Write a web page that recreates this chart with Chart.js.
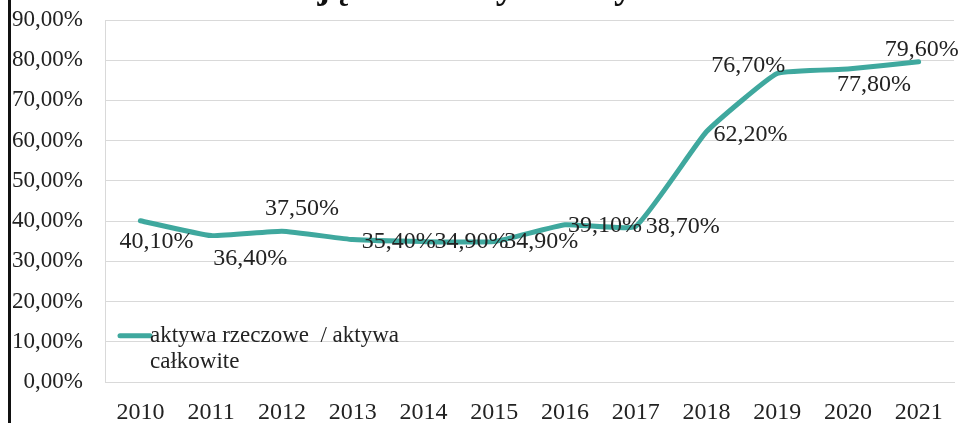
<!DOCTYPE html>
<html>
<head>
<meta charset="utf-8">
<script src="https://cdn.jsdelivr.net/npm/chart.js@4.4.0/dist/chart.umd.min.js"></script>
<style>
  html, body { margin: 0; padding: 0; background: #fff; }
  #wrap { position: relative; width: 963px; height: 423px; }
  #edge { position: absolute; left: 8px; top: 0; width: 3px; height: 423px; background: #111; }
</style>
</head>
<body>
<div id="wrap">
  <canvas id="c" width="963" height="423"></canvas>
  <div id="edge"></div>
</div>
<script>
/* ── Dane ─────────────────────────────────────────────────────────────── */
const years = ['2010','2011','2012','2013','2014','2015','2016','2017','2018','2019','2020','2021'];
const ratio = [40.1, 36.4, 37.5, 35.4, 34.9, 34.9, 39.1, 38.7, 62.2, 76.7, 77.8, 79.6];
const seriesName = ['aktywa rzeczowe  / aktywa', 'całkowite'];
const titleText = 'Majątek trwały w aktywach';

// przesunięcia etykiet danych (styl, nie dane)
const labelShift = [[16,21],[39,23],[20,-22],[46,2],[48,0],[47,0],[40,1],[47,0],[44,3],[-29,-8],[26,16],[3,-12]];

const TEAL = '#3fa89e';
const SERIF = '"Liberation Serif", "Times New Roman", serif';
const pct = v => v.toFixed(2).replace('.', ',') + '%';

/* ── Plugin: tytuł (ucięty), etykiety, legenda ────────────────────────── */
const extras = {
  id: 'extras',
  afterDatasetsDraw(chart) {
    const ctx = chart.ctx;
    const meta = chart.getDatasetMeta(0);
    ctx.save();
    // tytuł obcięty u góry skanu
    ctx.fillStyle = '#111';
    ctx.font = 'bold 38px ' + SERIF;
    ctx.textAlign = 'center';
    ctx.textBaseline = 'alphabetic';
    ctx.fillText(titleText, 490, -2);

    // etykiety danych
    ctx.font = '24px ' + SERIF;
    ctx.textBaseline = 'middle';
    ctx.fillStyle = '#222';
    meta.data.forEach((pt, i) => {
      const [dx, dy] = labelShift[i];
      ctx.fillText(pct(ratio[i]), pt.x + dx, pt.y + dy);
    });

    // legenda w obszarze wykresu
    const ys = chart.scales.y;
    const ly = ys.getPixelForValue(11.5);
    ctx.strokeStyle = TEAL;
    ctx.lineWidth = 5;
    ctx.lineCap = 'round';
    ctx.beginPath();
    ctx.moveTo(120, ly); ctx.lineTo(150, ly);
    ctx.stroke();
    ctx.textAlign = 'left';
    ctx.fillStyle = '#222';
    ctx.font = '23px ' + SERIF;
    ctx.fillText(seriesName[0], 150, ly);
    ctx.fillText(seriesName[1], 150, ly + 26);
    ctx.restore();
  }
};

/* ── Wykres ──────────────────────────────────────────────────────────── */
const chart = new Chart(document.getElementById('c').getContext('2d'), {
  type: 'line',
  data: {
    labels: years,
    datasets: [{
      label: seriesName.join(' '),
      data: ratio,
      borderColor: TEAL,
      borderWidth: 5,
      borderCapStyle: 'round',
      borderJoinStyle: 'round',
      pointRadius: 0,
      tension: 0.12,
      fill: false
    }]
  },
  options: {
    responsive: false,
    animation: false,
    layout: { padding: { top: 20, right: 9, left: 0, bottom: 0 } },
    plugins: { legend: { display: false }, tooltip: { enabled: false } },
    scales: {
      x: {
        offset: true,
        grid: { display: false, drawTicks: false },
        border: { color: '#d9d9d9', width: 1 },
        ticks: { color: '#222', font: { family: SERIF, size: 24 }, padding: 16, maxRotation: 0 },
        afterFit(s) { s.height = 41; s.paddingLeft = 0; s.paddingRight = 0; }
      },
      y: {
        min: 0, max: 90,
        grid: { color: '#d9d9d9', drawTicks: false },
        border: { color: '#d9d9d9', width: 1 },
        ticks: { stepSize: 10, color: '#222', font: { family: SERIF, size: 23 }, padding: 22, callback: v => pct(v) },
        afterFit(s) { s.width = 105; s.paddingTop = 0; s.paddingBottom = 0; }
      }
    }
  },
  plugins: [extras]
});
</script>
</body>
</html>
